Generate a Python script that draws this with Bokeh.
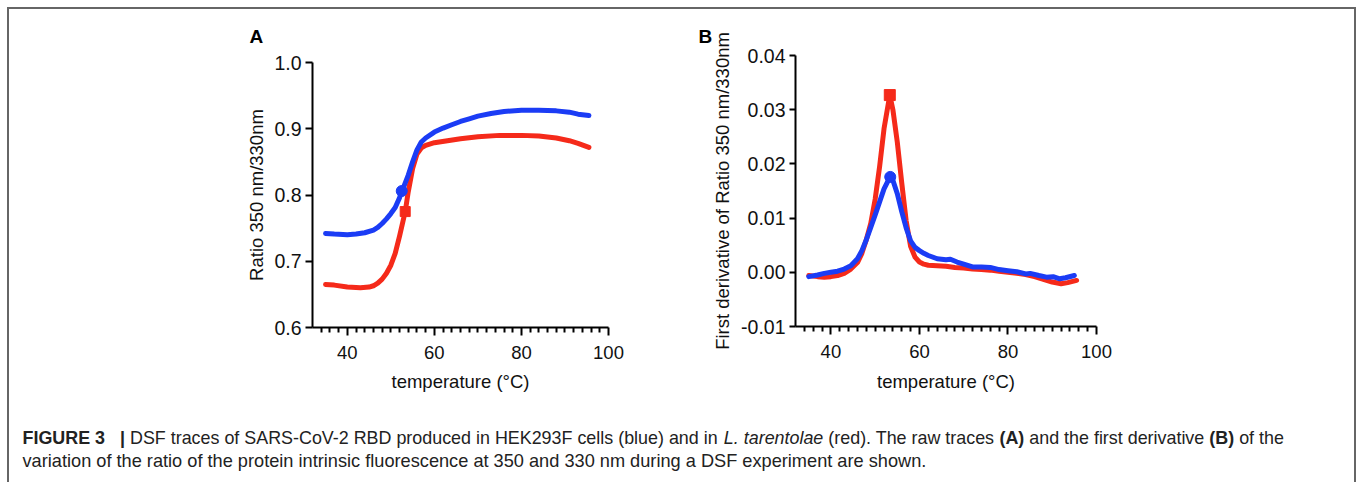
from bokeh.plotting import figure
from bokeh.models import Range1d, FixedTicker, PrintfTickFormatter
from bokeh.layouts import column, row
from bokeh.embed import file_html
from bokeh.resources import INLINE
from bokeh.core.properties import value

# ---------------- data ----------------
# Panel A: raw ratio 350/330 nm
temp_a_blue = [35, 37, 40, 42, 44, 46, 47, 48, 49, 50, 51, 52, 52.5, 53, 54, 55, 56, 57, 58,
               60, 62, 64, 66, 68, 70, 73, 76, 80, 84, 88, 91, 93, 95.5]
ratio_blue = [0.742, 0.741, 0.740, 0.741, 0.743, 0.747, 0.751, 0.757, 0.764, 0.772, 0.781,
              0.796, 0.806, 0.813, 0.830, 0.850, 0.868, 0.880, 0.886, 0.895, 0.901, 0.906,
              0.911, 0.915, 0.919, 0.923, 0.926, 0.928, 0.928, 0.927, 0.925, 0.922, 0.920]
temp_a_red = [35, 37, 40, 43, 45, 46, 47, 48, 49, 50, 51, 52, 53.3, 54, 55, 56, 57, 58, 60,
              63, 66, 70, 75, 80, 84, 88, 91, 93, 95.5]
ratio_red = [0.665, 0.664, 0.661, 0.660, 0.661, 0.663, 0.667, 0.673, 0.682, 0.694, 0.712,
             0.738, 0.775, 0.805, 0.840, 0.862, 0.871, 0.875, 0.879, 0.882, 0.885, 0.888,
             0.890, 0.890, 0.889, 0.886, 0.882, 0.878, 0.872]
tm_a_blue = ([52.5], [0.806])
tm_a_red = ([53.3], [0.775])

# Panel B: first derivative
temp_b_blue = [35, 37, 38.5, 40, 41.5, 43, 44.5, 46, 47, 48, 49, 50, 51, 52, 53.3, 54, 55, 56,
               57, 58, 59, 60, 61, 62, 64, 66, 67, 68.5, 70, 72, 74, 76, 78, 80, 82, 84, 85,
               87, 88.7, 90.2, 91.7, 93, 95]
deriv_blue = [-0.0008, -0.0005, -0.0002, 0.0000, 0.0002, 0.0006, 0.0012, 0.0025, 0.0040,
              0.0060, 0.0083, 0.0106, 0.0130, 0.0154, 0.0175, 0.0170, 0.0145, 0.0112, 0.0082,
              0.0058, 0.0046, 0.0040, 0.0035, 0.0031, 0.0025, 0.0023, 0.0024, 0.0019, 0.0015,
              0.0010, 0.0010, 0.0009, 0.0005, 0.0003, 0.0001, -0.0003, -0.0002, -0.0006,
              -0.0009, -0.0008, -0.0012, -0.0010, -0.0006]
temp_b_red = [35, 37, 38.5, 40, 41.5, 43, 44.5, 46, 47, 48, 49, 50, 51, 52, 53.3, 54, 55, 56,
              57, 58, 59, 60, 61, 62, 64, 66, 68, 70, 72, 74, 76, 78, 80, 82, 84, 86, 88, 90,
              92, 93.5, 95.5]
deriv_red = [-0.0006, -0.0008, -0.0009, -0.0008, -0.0006, -0.0002, 0.0006, 0.0018, 0.0035,
             0.0060, 0.0090, 0.0135, 0.0195, 0.0265, 0.0327, 0.0300, 0.0240, 0.0165, 0.0095,
             0.0048, 0.0028, 0.0019, 0.0015, 0.0013, 0.0012, 0.0011, 0.0009, 0.0008, 0.0006,
             0.0005, 0.0004, 0.0002, 0.0000, -0.0002, -0.0004, -0.0008, -0.0013, -0.0018,
             -0.0021, -0.0019, -0.0015]
tm_b_blue = ([53.4], [0.0176])
tm_b_red = ([53.3], [0.0327])

# ticks
x_major = [40, 60, 80, 100]
x_minor = [34, 36, 38, 42, 44, 46, 48, 50, 52, 54, 56, 58, 62, 64, 66, 68, 70, 72, 74, 76, 78,
           82, 84, 86, 88, 90, 92, 94, 96, 98]
y_ticks_a = [0.6, 0.7, 0.8, 0.9, 1.0]
y_ticks_b = [-0.01, 0.0, 0.01, 0.02, 0.03, 0.04]

# texts
panel_a = "A"
panel_b = "B"
x_label = "temperature (°C)"
y_label_a = "Ratio 350 nm/330nm"
y_label_b = "First derivative of Ratio 350 nm/330nm"
caption_line1 = [
    ("FIGURE 3", "bold"),
    ("   |", "bold"),
    (" DSF traces of SARS-CoV-2 RBD produced in HEK293F cells (blue) and in ", "normal"),
    ("L. tarentolae", "italic"),
    (" (red). The raw traces ", "normal"),
    ("(A)", "bold"),
    (" and the first derivative ", "normal"),
    ("(B)", "bold"),
    (" of the", "normal"),
]
caption_line2 = [
    ("variation of the ratio of the protein intrinsic fluorescence at 350 and 330 nm during a DSF experiment are shown.", "normal"),
]

BLUE = "#1b3cf5"
RED = "#f52a1a"
FONT = "Liberation Sans"
FS = "18.5px"
FS_Y = "19.5px"

# ---------------- layout helpers ----------------
REG = dict(zip("abcdefghijklmnopqrstuvwxyz",
               [556, 556, 500, 556, 556, 278, 556, 556, 222, 222, 500, 222, 833, 556, 556, 556,
                556, 333, 500, 278, 556, 500, 722, 500, 500, 500]))
REG.update(dict(zip("ABCDEFGHIJKLMNOPQRSTUVWXYZ",
                    [667, 667, 722, 722, 667, 611, 778, 722, 278, 500, 667, 556, 833, 722, 778,
                     667, 778, 722, 667, 611, 722, 667, 944, 667, 667, 611])))
REG.update({" ": 278, "(": 333, ")": 333, ".": 278, ",": 278, "-": 333, "|": 260, "/": 278})
BOLD = dict(REG)
BOLD.update({"A": 722, "B": 722, "|": 280, "(": 333, ")": 333})


def text_width(s, style, size):
    table = BOLD if style == "bold" else REG
    return sum(table.get(c, 556) for c in s) * size / 1000.0


def style_fig(p, label_text, label_offset, label_standoff):
    p.xgrid.visible = False
    p.ygrid.visible = False
    p.outline_line_color = None
    p.background_fill_color = "white"
    p.border_fill_color = "white"
    try:
        p.frame_align = False
    except Exception:
        pass
    for ax in p.axis:
        ax.axis_line_width = 2
        ax.axis_line_color = "black"
        ax.major_tick_line_width = 2
        ax.minor_tick_line_width = 2
        ax.major_tick_line_color = "black"
        ax.major_tick_in = 0
        ax.minor_tick_in = 0
        ax.major_label_text_font = FONT
        ax.major_label_text_font_size = FS
        ax.major_label_text_color = "#111111"
        ax.axis_label_text_font = FONT
        ax.axis_label_text_font_size = FS
        ax.axis_label_text_font_style = "normal"
        ax.axis_label_text_color = "#111111"
    xa = p.xaxis[0]
    xa.ticker = FixedTicker(ticks=x_major, minor_ticks=x_minor)
    xa.major_tick_out = 8
    xa.minor_tick_out = 5
    xa.minor_tick_line_color = "black"
    xa.major_label_standoff = 10
    ya = p.yaxis[0]
    ya.major_tick_out = 7
    ya.minor_tick_line_color = None
    ya.major_label_standoff = 4
    ya.major_label_text_font_size = FS_Y
    # panel letter as the figure title, pushed to the left of the frame
    p.title.text = label_text
    p.title.text_font = FONT
    p.title.text_font_size = "19px"
    p.title.text_font_style = "bold"
    p.title.text_color = "black"
    p.title.align = "left"
    p.title.vertical_align = "top"
    p.title.offset = label_offset
    try:
        p.title.standoff = label_standoff
    except Exception:
        pass


# ---------------- panel A ----------------
pa = figure(width=681, height=391, x_range=Range1d(32, 100), y_range=Range1d(0.6, 1.0),
            min_border_left=303, min_border_right=82, min_border_top=53, min_border_bottom=73,
            toolbar_location=None, output_backend="svg", x_axis_label=x_label,
            y_axis_label=y_label_a)
style_fig(pa, panel_a, -63, 28)
pa.yaxis[0].ticker = FixedTicker(ticks=y_ticks_a, minor_ticks=[])
pa.yaxis[0].formatter = PrintfTickFormatter(format="%.1f")
pa.yaxis[0].axis_label_standoff = 4
pa.xaxis[0].axis_label_standoff = 9
pa.line(temp_a_red, ratio_red, line_color=RED, line_width=5, line_join="round", line_cap="round")
pa.line(temp_a_blue, ratio_blue, line_color=BLUE, line_width=5, line_join="round", line_cap="round")
pa.scatter(tm_a_red[0], tm_a_red[1], marker="square", size=10, color=RED)
pa.scatter(tm_a_blue[0], tm_a_blue[1], marker="circle", size=11, color=BLUE)

# ---------------- panel B ----------------
pb = figure(width=664, height=391, x_range=Range1d(32, 100), y_range=Range1d(-0.01, 0.04),
            min_border_left=105, min_border_right=258, min_border_top=46, min_border_bottom=74,
            toolbar_location=None, output_backend="svg", x_axis_label=x_label,
            y_axis_label=y_label_b)
style_fig(pb, panel_b, -97, 14)
pb.yaxis[0].ticker = FixedTicker(ticks=y_ticks_b, minor_ticks=[])
pb.yaxis[0].formatter = PrintfTickFormatter(format="%.2f")
pb.yaxis[0].major_tick_out = 6
pb.yaxis[0].axis_label_standoff = 5
pb.xaxis[0].axis_label_standoff = 10
pb.line(temp_b_red, deriv_red, line_color=RED, line_width=5, line_join="round", line_cap="round")
pb.line(temp_b_blue, deriv_blue, line_color=BLUE, line_width=5, line_join="round", line_cap="round")
pb.scatter(tm_b_red[0], tm_b_red[1], marker="square", size=11, color=RED)
pb.scatter(tm_b_blue[0], tm_b_blue[1], marker="circle", size=11, color=BLUE)

# ---------------- caption ----------------
CAP_W, CAP_H = 1345, 82
cap = figure(width=CAP_W, height=CAP_H, x_range=Range1d(0, CAP_W), y_range=Range1d(CAP_H, 0),
             min_border=0, toolbar_location=None, output_backend="svg",
             x_axis_type=None, y_axis_type=None)
cap.xgrid.visible = False
cap.ygrid.visible = False
cap.outline_line_color = None
for line, mid, cap_size in ((caption_line1, 37, 17.9), (caption_line2, 60, 18.2)):
    xpos = 13.0
    for seg, st in line:
        lead = seg[:len(seg) - len(seg.lstrip())]
        cap.text(x=[xpos + text_width(lead, "normal", cap_size)], y=[mid], text=[seg.strip()],
                 text_font=value(FONT), text_font_size=value("%.1fpx" % cap_size),
                 text_font_style=value(st), text_align="left", text_baseline="middle",
                 text_color="#222222")
        xpos += text_width(seg, st, cap_size)

layout = column(row(pa, pb), cap,
                styles={"margin-left": "7px", "margin-top": "7px",
                        "border-top": "2px solid #666666", "border-left": "2px solid #666666",
                        "border-right": "2px solid #666666", "background-color": "white"})

open("out.html", "w").write(file_html(layout, INLINE))
